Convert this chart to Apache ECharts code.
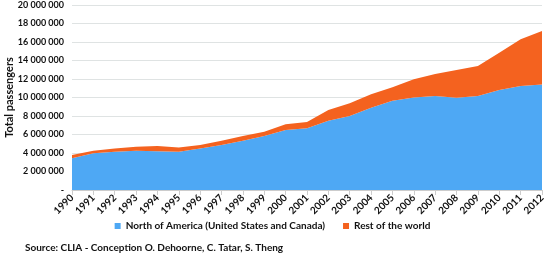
<!DOCTYPE html>
<html><head><meta charset="utf-8">
<script src="https://cdn.jsdelivr.net/npm/echarts@6/dist/echarts.min.js"></script>
<style>html,body{margin:0;padding:0;background:#fff}#c{width:545px;height:258px}</style>
</head><body><div id="c"></div>
<script>
var years = ['1990','1991','1992','1993','1994','1995','1996','1997','1998','1999','2000','2001','2002','2003','2004','2005','2006','2007','2008','2009','2010','2011','2012'];
var northAmerica = [3430000,3970000,4140000,4250000,4200000,4140000,4500000,4860000,5330000,5840000,6490000,6670000,7500000,8000000,8900000,9660000,10000000,10160000,9980000,10160000,10800000,11240000,11400000];
var restOfWorld = [350000,280000,360000,430000,560000,460000,360000,470000,510000,460000,610000,680000,1150000,1370000,1450000,1440000,1960000,2380000,2990000,3240000,4040000,5060000,5800000];
var seriesNames = ['North of America (United States and Canada)','Rest of the world'];
var sourceText = 'Source: CLIA - Conception O. Dehoorne, C. Tatar, S. Theng';

var font = 'Lato';
var chart = echarts.init(document.getElementById('c'));
function fmt(v){ if(v===0) return '-'; return String(v).replace(/\B(?=(\d{3})+(?!\d))/g,' '); }
chart.setOption({
  animation:false,
  textStyle:{fontFamily:font},
  grid:{left:72,right:3,top:5,bottom:68,containLabel:false,outerBoundsMode:'none'},
  legend:{bottom:22,left:'center',itemWidth:6,itemHeight:6,icon:'rect',itemGap:18,
    textStyle:{fontFamily:font,fontSize:10,fontWeight:'bold',color:'#111'},data:seriesNames},
  xAxis:{type:'category',data:years,boundaryGap:false,
    axisLine:{lineStyle:{color:'#ccc'}},axisTick:{show:true,lineStyle:{color:'#ccc'}},
    axisLabel:{rotate:45,fontSize:10,fontWeight:'bold',color:'#111',margin:6,interval:0,fontFamily:font}},
  yAxis:{type:'value',min:0,max:20000000,interval:2000000,
    name:'Total passengers',nameLocation:'middle',nameGap:57,nameMoveOverlap:false,
    nameTextStyle:{fontFamily:font,fontSize:11,fontWeight:'bold',color:'#111'},
    axisLine:{show:false},axisTick:{show:false},
    splitLine:{lineStyle:{color:'#dfe3e3'}},
    axisLabel:{formatter:fmt,fontSize:9,fontWeight:'bold',color:'#111',margin:8,fontFamily:font}},
  graphic:[{type:'text',left:25,top:243,style:{text:sourceText,fontFamily:font,fontSize:10,fontWeight:'bold',fill:'#111'}}],
  series:[
    {name:seriesNames[0],type:'line',stack:'t',data:northAmerica,showSymbol:false,symbol:'none',
     lineStyle:{width:0},itemStyle:{color:'#4ea8f4'},areaStyle:{color:'#4ea8f4',opacity:1}},
    {name:seriesNames[1],type:'line',stack:'t',data:restOfWorld,showSymbol:false,symbol:'none',
     lineStyle:{width:0},itemStyle:{color:'#f4621f'},areaStyle:{color:'#f4621f',opacity:1}}
  ]
});
</script></body></html>
